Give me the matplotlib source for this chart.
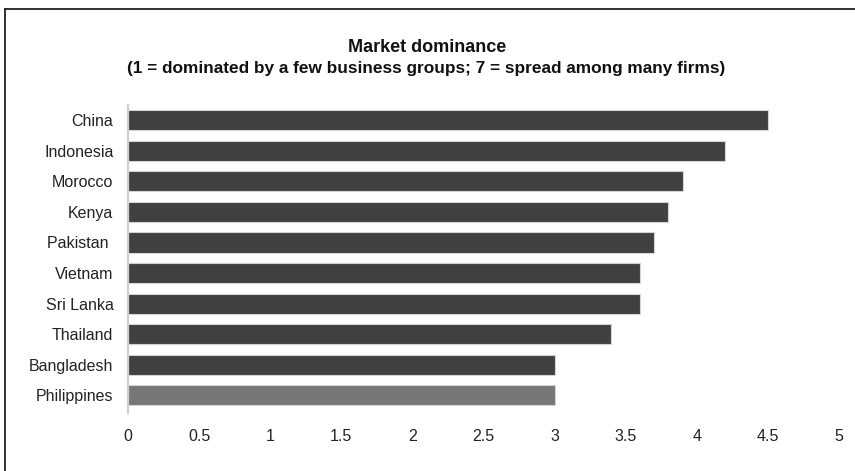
import matplotlib.pyplot as plt
from matplotlib.lines import Line2D

plt.rcParams['font.family'] = ['Liberation Sans', 'DejaVu Sans']

countries = ['China', 'Indonesia', 'Morocco', 'Kenya', 'Pakistan ', 'Vietnam',
             'Sri Lanka', 'Thailand', 'Bangladesh', 'Philippines']
scores = [4.5, 4.2, 3.9, 3.8, 3.7, 3.6, 3.6, 3.4, 3.0, 3.0]
xticks = [0, 0.5, 1, 1.5, 2, 2.5, 3, 3.5, 4, 4.5, 5]
xtick_labels = ['0', '0.5', '1', '1.5', '2', '2.5', '3', '3.5', '4', '4.5', '5']

W, H = 855, 471
fig = plt.figure(figsize=(W / 100, H / 100), dpi=100)
ax = fig.add_axes([128 / W, 1 - 413 / H, (839 - 128) / W, (413 - 105) / H])

colors = ['#404040'] * (len(countries) - 1) + ['#777777']
ypos = list(range(len(countries)))
ax.barh(ypos, scores, height=0.66, color=colors, edgecolor='#d4d4d4', linewidth=0.8)

ax.set_ylim(len(countries) - 0.42, -0.5)
ax.set_xlim(0, 5)
ax.set_yticks(ypos)
ax.set_yticklabels(countries, fontsize=11.5, color='#222222')
ax.set_xticks(xticks)
ax.set_xticklabels(xtick_labels, fontsize=11.5, color='#222222')
ax.tick_params(axis='y', length=0, pad=10.5)
ax.tick_params(axis='x', length=0, pad=11.5)

for s in ['top', 'right', 'bottom']:
    ax.spines[s].set_visible(False)
ax.spines['left'].set_color('#d0d0d0')
ax.spines['left'].set_linewidth(1.6)

fig.text(427 / W, 1 - 47 / H, 'Market dominance', ha='center', va='center',
         fontsize=13, fontweight='bold', color='#111111')
fig.text(426 / W, 1 - 68 / H,
         '(1 = dominated by a few business groups; 7 = spread among many firms)',
         ha='center', va='center', fontsize=12.4, fontweight='bold', color='#111111')

# frame lines along the top and left edge
fig.add_artist(Line2D([4.5 / W, 1], [1 - 8.5 / H, 1 - 8.5 / H], transform=fig.transFigure,
                      color='#222222', linewidth=1.3))
fig.add_artist(Line2D([4.5 / W, 4.5 / W], [0, 1 - 8.5 / H], transform=fig.transFigure,
                      color='#222222', linewidth=1.3))

fig.savefig('out.png', dpi=100)
